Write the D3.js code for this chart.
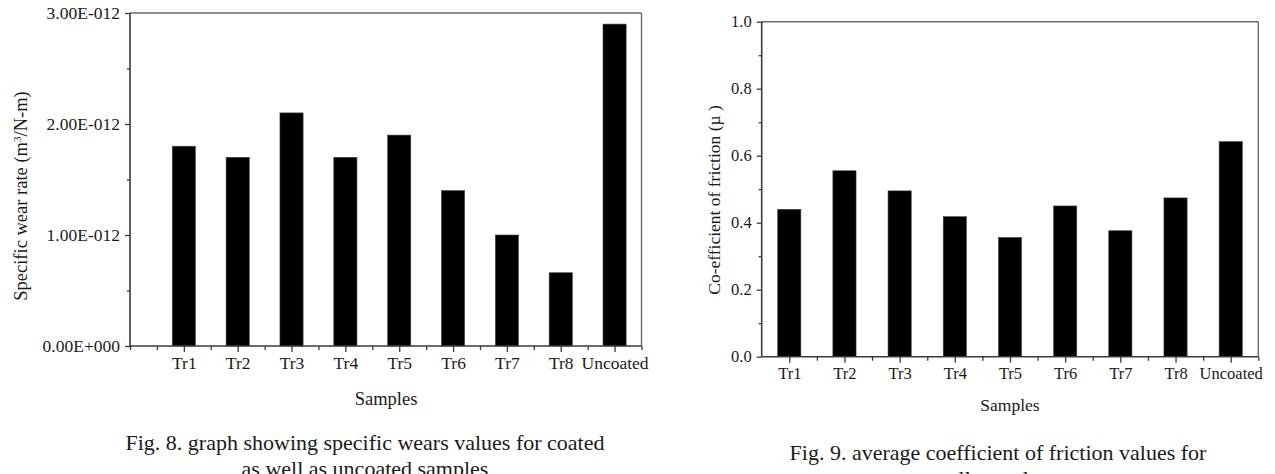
<!DOCTYPE html>
<html>
<head>
<meta charset="utf-8">
<script src="https://cdn.jsdelivr.net/npm/d3@7"></script>
<style>
  html, body { margin: 0; padding: 0; background: #fff; }
  svg { display: block; font-family: "Liberation Serif", "Times New Roman", serif; }
</style>
</head>
<body>
<svg id="chart" width="1275" height="474"></svg>
<script>
// ---------- DATA ----------
const categories = ["Tr1", "Tr2", "Tr3", "Tr4", "Tr5", "Tr6", "Tr7", "Tr8", "Uncoated"];
const wearValues = [1.80e-12, 1.70e-12, 2.10e-12, 1.70e-12, 1.90e-12, 1.40e-12, 1.00e-12, 0.66e-12, 2.90e-12];
const frictionValues = [0.44, 0.555, 0.495, 0.418, 0.356, 0.45, 0.376, 0.474, 0.642];
const wearTicks = [0, 1e-12, 2e-12, 3e-12];
const wearTickLabels = ["0.00E+000", "1.00E-012", "2.00E-012", "3.00E-012"];
const frictionTicks = [0.0, 0.2, 0.4, 0.6, 0.8, 1.0];
const frictionTickLabels = ["0.0", "0.2", "0.4", "0.6", "0.8", "1.0"];

const svg = d3.select("#chart");
const ink = "#1a1a1a";
const axisCol = "#3a3a3a";
const frameCol = "#6a6a6a";

function drawChart(cfg) {
  const g = svg.append("g");
  const x = d3.scaleLinear().domain(cfg.xDomain).range([cfg.left, cfg.right]);
  const y = d3.scaleLinear().domain(cfg.yDomain).range([cfg.bottom, cfg.top]);

  // bars
  g.selectAll("rect.bar").data(cfg.values).enter().append("rect")
    .attr("class", "bar")
    .attr("x", (d, i) => x(i + cfg.catOffset) - (x(cfg.barW) - x(0)) / 2)
    .attr("width", x(cfg.barW) - x(0))
    .attr("y", d => y(d))
    .attr("height", d => y(cfg.yDomain[0]) - y(d))
    .attr("fill", "#000")
    .attr("stroke", "#444")
    .attr("stroke-width", 0.6);

  // frame top & right
  g.append("line").attr("x1", cfg.left).attr("x2", cfg.right).attr("y1", cfg.top).attr("y2", cfg.top)
    .attr("stroke", frameCol).attr("stroke-width", 1.4);
  g.append("line").attr("x1", cfg.right).attr("x2", cfg.right).attr("y1", cfg.top).attr("y2", cfg.bottom)
    .attr("stroke", frameCol).attr("stroke-width", 1.4);

  // y axis
  const yAxis = d3.axisLeft(y).tickValues(cfg.yTicks).tickSize(5).tickPadding(5)
    .tickFormat((d, i) => cfg.yTickLabels[i]);
  const ya = g.append("g").attr("transform", `translate(${cfg.left},0)`).call(yAxis);
  const yMinor = d3.axisLeft(y).tickValues(cfg.yMinor).tickSize(3).tickFormat("");
  const ym = g.append("g").attr("transform", `translate(${cfg.left},0)`).call(yMinor);
  ym.select(".domain").remove();

  // x axis
  const xAxis = d3.axisBottom(x).tickValues(categories.map((c, i) => i + cfg.catOffset)).tickSize(6).tickPadding(cfg.xPad)
    .tickFormat((d, i) => categories[i]);
  const xa = g.append("g").attr("transform", `translate(0,${cfg.bottom})`).call(xAxis);
  const xMinor = d3.axisBottom(x).tickValues(cfg.xMinor).tickSize(4).tickFormat("");
  const xm = g.append("g").attr("transform", `translate(0,${cfg.bottom})`).call(xMinor);
  xm.select(".domain").remove();

  [ya, ym, xa, xm].forEach(a => {
    a.selectAll(".domain").attr("stroke", axisCol).attr("stroke-width", 1.6);
    a.selectAll(".tick line").attr("stroke", axisCol).attr("stroke-width", 1.3);
    a.selectAll("text").attr("fill", ink).attr("font-family", "Liberation Serif").style("font-size", cfg.tickFont + "px");
  });
  xa.select(".domain").attr("d", `M${cfg.left},0H${cfg.right}`);
  ya.select(".domain").attr("d", `M0,${cfg.bottom}V${cfg.top}`);

  // y title
  const yt = g.append("text")
    .attr("transform", `translate(${cfg.yTitleX},${cfg.yTitleY}) rotate(-90)`)
    .attr("text-anchor", "middle")
    .attr("fill", ink)
    .style("font-size", cfg.titleFont + "px");
  cfg.yTitleParts.forEach(p => {
    const t = yt.append("tspan").text(p.t);
    if (p.sup) t.attr("baseline-shift", "super").style("font-size", (cfg.titleFont * 0.6) + "px");
  });

  // x title
  g.append("text").attr("x", cfg.xTitleX).attr("y", cfg.xTitleY)
    .attr("text-anchor", "middle").attr("fill", ink)
    .style("font-size", cfg.titleFont + "px").text("Samples");

  // caption
  cfg.caption.forEach((line, i) => {
    g.append("text").attr("x", cfg.capX).attr("y", cfg.capY + i * cfg.capLH)
      .attr("text-anchor", "middle").attr("fill", ink)
      .style("font-size", cfg.capFont + "px").text(line);
  });
}

drawChart({
  values: wearValues,
  xDomain: [0, 9.5], catOffset: 1, barW: 0.43,
  yDomain: [0, 3e-12],
  left: 130, right: 641.5, top: 13, bottom: 346,
  yTicks: wearTicks, yTickLabels: wearTickLabels,
  yMinor: [0.5e-12, 1.5e-12, 2.5e-12],
  xMinor: [0, 0.5, 1.5, 2.5, 3.5, 4.5, 5.5, 6.5, 7.5, 8.5, 9.5],
  xPad: 5,
  tickFont: 17.5, titleFont: 18.5,
  yTitleX: 27, yTitleY: 196,
  yTitleParts: [{t: "Specific wear rate (m"}, {t: "3", sup: true}, {t: "/N-m)"}],
  xTitleX: 386, xTitleY: 405,
  caption: ["Fig. 8. graph showing specific wears values for coated", "as well as uncoated samples"],
  capX: 365, capY: 450, capLH: 26, capFont: 22
});

drawChart({
  values: frictionValues,
  xDomain: [0, 9], catOffset: 0.5, barW: 0.42,
  yDomain: [0, 1],
  left: 761.7, right: 1258.3, top: 21.7, bottom: 356.7,
  yTicks: frictionTicks, yTickLabels: frictionTickLabels,
  yMinor: [0.1, 0.3, 0.5, 0.7, 0.9],
  xMinor: [1, 2, 3, 4, 5, 6, 7, 8, 9],
  xPad: 5,
  tickFont: 16.5, titleFont: 17.5,
  yTitleX: 720, yTitleY: 200,
  yTitleParts: [{t: "Co-efficient of friction (µ )"}],
  xTitleX: 1010, xTitleY: 411,
  caption: ["Fig. 9. average coefficient of friction values for", "all samples"],
  capX: 998, capY: 460, capLH: 26, capFont: 22
});
</script>
</body>
</html>
